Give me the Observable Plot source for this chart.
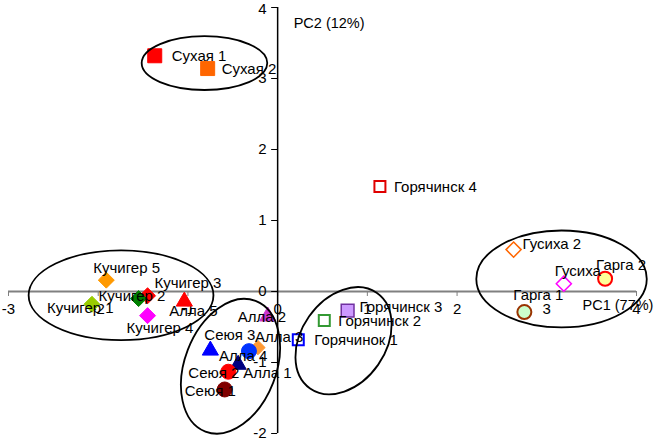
<!DOCTYPE html>
<html>
<head>
<meta charset="utf-8">
<script src="https://cdn.jsdelivr.net/npm/d3@7"></script>
<script src="https://cdn.jsdelivr.net/npm/@observablehq/plot@0.6"></script>
<style>
  html, body { margin: 0; padding: 0; background: #fff; }
  #chart svg { display: block; }
</style>
</head>
<body>
<div id="chart"></div>
<script>
// ---- data (values only) ----
const names = ["Сухая 1","Сухая 2","Горячинск 4","Горячинск 3","Горячинск 2","Горячинок 1",
  "Гусиха 2","Гусиха","Гарга 2","Гарга 1",
  "Кучигер 5","Кучигер 3","Кучигер 2","Кучигер 1","Кучигер 4","Алла 5",
  "Алла 2","Сеюя 3","Алла 3","Алла 4","Алла 1","Сеюя 2","Сеюя 1"];
const pc1 = [-1.37,-0.78,1.14,0.78,0.52,0.23, 2.63,3.19,3.65,2.75,
  -1.91,-1.45,-1.55,-2.07,-1.45,-1.04, -0.11,-0.75,-0.22,-0.32,-0.44,-0.55,-0.59];
const pc2 = [3.32,3.14,1.48,-0.27,-0.41,-0.68, 0.59,0.11,0.18,-0.29,
  0.16,-0.06,-0.10,-0.18,-0.34,-0.14, -0.35,-0.83,-0.79,-0.84,-1.03,-1.13,-1.38];
const xTicks = [-3,-2,-1,0,1,2,3,4];
const yTicks = [-2,-1,0,1,2,3,4];
const xTitle = "PC1 (77%)";
const yTitle = "PC2 (12%)";

// ---- styles (kept apart from the data) ----
const styles = {
  "Сухая 1":     {symbol:"square",  r:7.9, fill:"#ff0000", stroke:"#ff0000", sw:1},
  "Сухая 2":     {symbol:"square",  r:7.9, fill:"#ff6600", stroke:"#ff6600", sw:1},
  "Горячинск 4": {symbol:"square",  r:6.2, fill:"#ffffff", stroke:"#e00000", sw:2},
  "Горячинск 3": {symbol:"square",  r:7.2, fill:"#cc99ff", stroke:"#7030a0", sw:1.5},
  "Горячинск 2": {symbol:"square",  r:6.2, fill:"#ffffff", stroke:"#339933", sw:2},
  "Горячинок 1": {symbol:"square",  r:6.2, fill:"#ffffff", stroke:"#0000ff", sw:2},
  "Гусиха 2":    {symbol:"diamond2",r:6.8, fill:"#ffffff", stroke:"#ff6600", sw:1.5},
  "Гусиха":      {symbol:"diamond2",r:6.8, fill:"#ffffff", stroke:"#ff00ff", sw:1.5},
  "Гарга 2":     {symbol:"circle",  r:7,   fill:"#ffff99", stroke:"#ff0000", sw:2},
  "Гарга 1":     {symbol:"circle",  r:7,   fill:"#ccffcc", stroke:"#993300", sw:2},
  "Кучигер 5":   {symbol:"diamond2",r:7.2, fill:"#ff9900", stroke:"#ff9900", sw:1},
  "Кучигер 3":   {symbol:"diamond2",r:7.2, fill:"#ff0000", stroke:"#ff0000", sw:1},
  "Кучигер 2":   {symbol:"diamond2",r:7.2, fill:"#008000", stroke:"#008000", sw:1},
  "Кучигер 1":   {symbol:"diamond2",r:7.2, fill:"#99cc00", stroke:"#99cc00", sw:1},
  "Кучигер 4":   {symbol:"diamond2",r:7.2, fill:"#ff00ff", stroke:"#ff00ff", sw:1},
  "Алла 5":      {symbol:"triangle",r:6,   fill:"#ff0000", stroke:"#ff0000", sw:1},
  "Алла 2":      {symbol:"triangle",r:6,   fill:"#cc33cc", stroke:"#cc33cc", sw:1},
  "Сеюя 3":      {symbol:"triangle",r:6,   fill:"#0000ff", stroke:"#0000ff", sw:1},
  "Алла 3":      {symbol:"diamond2",r:6.5, fill:"#ff9933", stroke:"#ff9933", sw:1},
  "Алла 4":      {symbol:"circle",  r:7.5, fill:"#0033ff", stroke:"#0033ff", sw:1},
  "Алла 1":      {symbol:"triangle",r:6,   fill:"#000080", stroke:"#000080", sw:1},
  "Сеюя 2":      {symbol:"circle",  r:7.5, fill:"#ff0000", stroke:"#ff0000", sw:1},
  "Сеюя 1":      {symbol:"circle",  r:7.5, fill:"#800000", stroke:"#800000", sw:1}
};
// label offsets in px relative to marker (text-anchor start)
const labelOffsets = {
  "Сухая 1":[17,0], "Сухая 2":[14,1], "Горячинск 4":[14,1], "Горячинск 3":[12,-3],
  "Горячинск 2":[14,1], "Горячинок 1":[16,0], "Гусиха 2":[9,-5], "Гусиха":[-9,-13],
  "Гарга 2":[-9,-14], "Гарга 1":[-11,-17], "Кучигер 5":[-13,-12], "Кучигер 3":[7,-13],
  "Кучигер 2":[-40,-2], "Кучигер 1":[-45,4], "Кучигер 4":[-21,13], "Алла 5":[-15,10],
  "Алла 2":[-30,1], "Сеюя 3":[-6,-15], "Алла 3":[-3,-10], "Алла 4":[-30,5],
  "Алла 1":[5,9], "Сеюя 2":[-40,1], "Сеюя 1":[-40,2]
};
// grouping ellipses: center in data, semi-axes in x-units, screen rotation
const ellipseCx = [-0.81, -1.74, -0.52, 0.74, 3.17];
const ellipseCy = [3.21, -0.06, -1.06, -0.70, 0.17];
const ellipseA  = [0.70, 1.03, 0.78, 0.65, 0.95];
const ellipseB  = [0.30, 0.50, 0.51, 0.47, 0.54];
const ellipseAngle = [0, 0, -69, -55, 0];

const W = 655, H = 441;
const M = {top: 7, right: 19, bottom: 8, left: 8};

const points = names.map((n, i) => ({name: n, x: pc1[i], y: pc2[i]}));

function ellipseMark(index, scales) {
  const sx = scales && typeof scales.x === "function" ? scales.x
    : d3.scaleLinear([-3, 4], [M.left, W - M.right]);
  const sy = scales && typeof scales.y === "function" ? scales.y
    : d3.scaleLinear([-2, 4], [H - M.bottom, M.top]);
  const ns = "http://www.w3.org/2000/svg";
  const g = document.createElementNS(ns, "g");
  const kx = Math.abs(sx(1) - sx(0));
  ellipseCx.forEach((cx, i) => {
    const e = document.createElementNS(ns, "ellipse");
    const px = sx(cx), py = sy(ellipseCy[i]);
    e.setAttribute("cx", px);
    e.setAttribute("cy", py);
    e.setAttribute("rx", ellipseA[i] * kx);
    e.setAttribute("ry", ellipseB[i] * kx);
    e.setAttribute("transform", `rotate(${ellipseAngle[i]} ${px} ${py})`);
    e.setAttribute("fill", "none");
    e.setAttribute("stroke", "#000");
    e.setAttribute("stroke-width", 1.8);
    g.appendChild(e);
  });
  return g;
}

const dotMarks = points.map(p => {
  const s = styles[p.name];
  return Plot.dot([p], {x: "x", y: "y", symbol: s.symbol, r: s.r,
    fill: s.fill, stroke: s.stroke, strokeWidth: s.sw});
});
const labelMarks = points.map(p => {
  const o = labelOffsets[p.name];
  return Plot.text([p], {x: "x", y: "y", text: "name", dx: o[0], dy: o[1],
    textAnchor: "start", fill: "#000", fontSize: 15});
});

const yTop = yTicks[yTicks.length - 1], yBottom = yTicks[0];

const chart = Plot.plot({
  width: W, height: H,
  marginTop: M.top, marginRight: M.right, marginBottom: M.bottom, marginLeft: M.left,
  x: {domain: [-3, 4], axis: null},
  y: {domain: [-2, 4], axis: null},
  style: {fontFamily: "'Liberation Sans', Arial, sans-serif", fontSize: "14px", background: "#fff", overflow: "visible"},
  marks: [
    // x axis (gray) with ticks
    Plot.ruleY([0], {x1: xTicks[0], x2: xTicks[xTicks.length - 1], stroke: "#808080", strokeWidth: 2}),
    Plot.ruleX(xTicks, {x: d => d, y1: 0, y2: 0, insetTop: 0, insetBottom: -5, stroke: "#808080", strokeWidth: 1}),
    Plot.text(xTicks, {x: d => d, y: 0, text: d => String(d), dy: 18, fontSize: 15, fill: "#000"}),
    // y axis (black) with ticks
    Plot.ruleX([0], {y1: yBottom, y2: yTop, stroke: "#000", strokeWidth: 1.5}),
    Plot.ruleY(yTicks, {y: d => d, x1: 0, x2: 0, insetLeft: -6, insetRight: 0, stroke: "#000", strokeWidth: 1}),
    Plot.text(yTicks.filter(d => d !== yTop && d !== yBottom), {x: 0, y: d => d, text: d => String(d), dx: -11, textAnchor: "end", fontSize: 15, fill: "#000"}),
    Plot.text([yTop], {x: 0, y: d => d, text: d => String(d), dx: -11, dy: 1.5, textAnchor: "end", fontSize: 15, fill: "#000"}),
    Plot.text([yBottom], {x: 0, y: d => d, text: d => String(d), dx: -11, dy: -0.5, textAnchor: "end", fontSize: 15, fill: "#000"}),
    // axis titles
    Plot.text([yTitle], {x: 0, y: 4, text: d => d, dx: 16, dy: 16, textAnchor: "start", fontSize: 14.5, fill: "#000"}),
    Plot.text([xTitle], {x: 4, y: 0, text: d => d, dx: -54, dy: 14, textAnchor: "start", fontSize: 14.5, fill: "#000"}),
    ...dotMarks,
    ellipseMark,
    ...labelMarks
  ]
});
document.getElementById("chart").appendChild(chart);
</script>
</body>
</html>
